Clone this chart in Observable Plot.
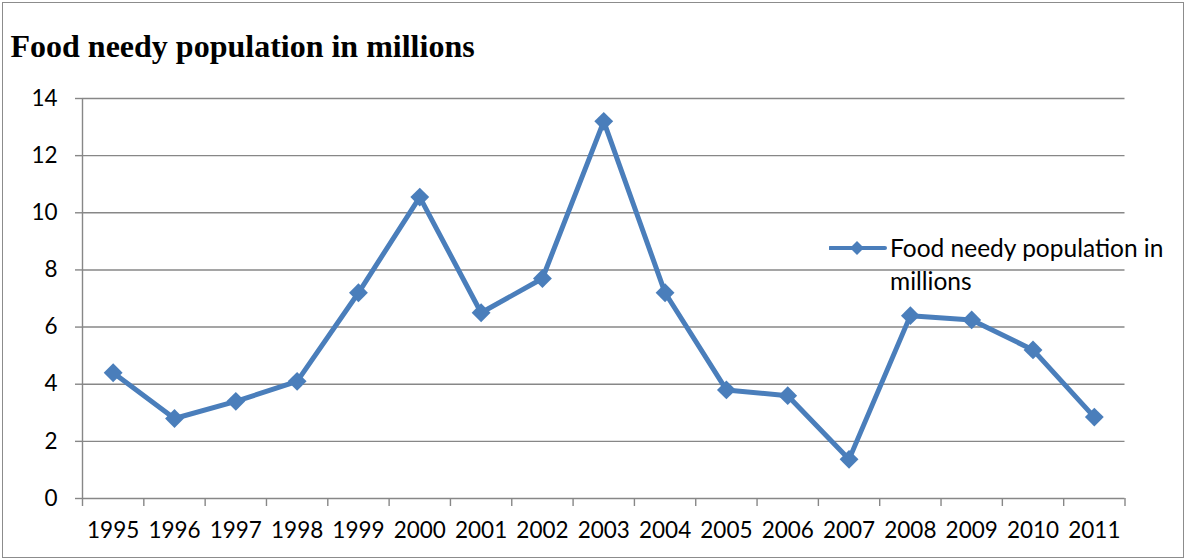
<!DOCTYPE html>
<html><head><meta charset="utf-8">
<script src="https://cdn.jsdelivr.net/npm/d3@7"></script>
<script src="https://cdn.jsdelivr.net/npm/@observablehq/plot@0.6"></script>
<style>
body{margin:0;background:#fff;}
#wrap{position:relative;width:1187px;height:560px;overflow:hidden;background:#fff;}
#frame{position:absolute;left:2px;top:2px;width:1182px;height:556px;border:1.5px solid #8c8c8c;box-sizing:border-box;pointer-events:none;}
#chart{position:absolute;left:0;top:0;}
#legend{position:absolute;left:829px;top:232px;}
#legend svg{position:absolute;left:0;top:5px;}
#legend .txt{position:absolute;left:61px;top:-1px;font-family:Lato;font-size:24.5px;line-height:33px;color:#000;white-space:nowrap;}
</style></head>
<body>
<div id="wrap">
  <div id="chart"></div>
  <div id="legend"></div>
  <div id="frame"></div>
</div>
<script>
const years = [1995,1996,1997,1998,1999,2000,2001,2002,2003,2004,2005,2006,2007,2008,2009,2010,2011];
const values = [4.4,2.8,3.4,4.1,7.2,10.55,6.5,7.7,13.2,7.2,3.8,3.6,1.37,6.4,6.25,5.2,2.85];
const yTicks = [0,2,4,6,8,10,12,14];
const titleText = "Food needy population in millions";
const legendLines = ["Food needy population in", "millions"];

const blue = "#4a7ebb";
const gray = "#878787";
const data = years.map((y, i) => ({year: y, value: values[i]}));
const xDomain = [years[0] - 0.5, years[years.length - 1] + 0.5];
const boundaries = [xDomain[0], ...years.map(y => y + 0.5)];

const chart = Plot.plot({
  width: 1187, height: 560,
  marginLeft: 82, marginRight: 62.5, marginTop: 98, marginBottom: 62,
  style: {fontFamily: "Lato", fontSize: "22.5px", color: "#000", background: "transparent"},
  x: {domain: xDomain, label: null},
  y: {domain: [0, 14], label: null},
  marks: [
    Plot.gridY(yTicks.filter(d => d > 0), {stroke: gray, strokeOpacity: 1, strokeWidth: 1.4}),
    Plot.axisY(yTicks, {tickSize: 7, tickPadding: 18, stroke: gray, strokeWidth: 1.4, fill: "#000", label: null, tickFormat: d => String(d)}),
    Plot.ruleX([xDomain[0]], {stroke: gray, strokeWidth: 1.4}),
    Plot.ruleY([0], {stroke: gray, strokeWidth: 1.4}),
    Plot.axisX(years, {tickSize: 0, tickPadding: 24, fill: "#000", label: null, tickFormat: d => String(d)}),
    Plot.axisX(boundaries, {tickSize: 8, stroke: gray, strokeWidth: 1.4, label: null, tickFormat: () => ""}),
    Plot.line(data, {x: "year", y: "value", stroke: blue, strokeWidth: 5, strokeLinejoin: "miter"}),
    Plot.dot(data, {x: "year", y: "value", symbol: "diamond2", r: 8.5, fill: blue, stroke: "none"}),
    Plot.text([titleText], {
      text: d => d, frameAnchor: "top-left", textAnchor: "start", lineAnchor: "bottom",
      dx: -72, dy: -42, fontFamily: "Liberation Serif", fontWeight: "bold", fontSize: 32, fill: "#000"
    })
  ]
});
document.getElementById("chart").appendChild(chart);

const leg = document.getElementById("legend");
leg.innerHTML = `<svg width="58" height="22"><line x1="1" y1="11" x2="56" y2="11" stroke="${blue}" stroke-width="4" stroke-linecap="round"/><path d="M28,4 L35,11 L28,18 L21,11 Z" fill="${blue}"/></svg><div class="txt"></div>`;
leg.querySelector(".txt").innerHTML = legendLines.map(s => `<div>${s}</div>`).join("");
</script>
</body></html>
